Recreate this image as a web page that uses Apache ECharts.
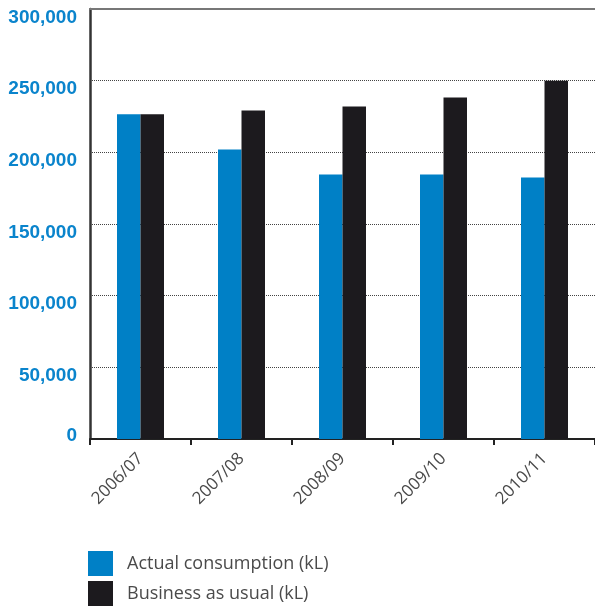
<!DOCTYPE html>
<html>
<head>
<meta charset="utf-8">
<script src="https://cdn.jsdelivr.net/npm/echarts@6/dist/echarts.min.js"></script>
<style>
  html, body { margin: 0; padding: 0; background: #fff; }
  #chart { width: 595px; height: 606px; }
</style>
</head>
<body>
<div id="chart"></div>
<script>
// datos
const categories = ['2006/07', '2007/08', '2008/09', '2009/10', '2010/11'];
const actualConsumption = [226500, 202000, 184600, 184600, 182500];
const businessAsUsual = [226500, 229200, 232000, 238300, 250000];
const yTicks = [0, 50000, 100000, 150000, 200000, 250000, 300000];

const chart = echarts.init(document.getElementById('chart'));

const labelFont = {
  fontFamily: 'Liberation Sans',
  fontWeight: 'bold',
  fontSize: 19,
  color: '#0a84cc'
};

const option = {
  animation: false,
  grid: { left: 90, right: -2, top: 9, bottom: 167 },
  legend: {
    orient: 'vertical',
    left: 88,
    top: 551,
    padding: 0,
    itemWidth: 25,
    itemHeight: 25,
    itemGap: 5,
    icon: 'rect',
    textStyle: { fontFamily: 'Open Sans', fontSize: 18, color: '#4a4a4a', padding: [0, 0, 0, 9] },
    data: ['Actual consumption (kL)', 'Business as usual (kL)']
  },
  xAxis: [
    {
      type: 'category',
      data: categories,
      axisLine: { lineStyle: { color: '#222', width: 2 } },
      axisTick: { show: true, length: 6, lineStyle: { color: '#222', width: 2 } },
      axisLabel: {
        rotate: 45,
        margin: 17,
        padding: [0, 0, 0, 0],
        fontFamily: 'Open Sans',
        fontSize: 17,
        color: '#4a4a4a'
      }
    },
    {
      type: 'category',
      position: 'top',
      data: categories,
      axisLine: { lineStyle: { color: '#777', width: 2 } },
      axisTick: { show: false },
      axisLabel: { show: false }
    }
  ],
  yAxis: {
    type: 'value',
    min: yTicks[0],
    max: yTicks[yTicks.length - 1],
    interval: 50000,
    axisLine: { show: true, lineStyle: { color: '#333', width: 2.5 } },
    axisTick: { show: false },
    axisLabel: {
      margin: 13,
      formatter: v => v === 0 ? '{z|0}' : '{n|' + v.toLocaleString('en-US') + '}',
      rich: {
        // las etiquetas quedan un poco por debajo de la linea
        n: Object.assign({ padding: [17, 0, 0, 0] }, labelFont),
        z: Object.assign({ padding: [0, 0, 6, 0] }, labelFont)
      }
    },
    splitLine: {
      show: true,
      showMinLine: false,
      showMaxLine: false,
      lineStyle: { type: 'dotted', color: '#444', width: 1 }
    }
  },
  series: [
    {
      name: 'Actual consumption (kL)',
      type: 'bar',
      data: actualConsumption,
      barWidth: 23.5,
      barGap: '0%',
      itemStyle: { color: '#0080c6' }
    },
    {
      name: 'Business as usual (kL)',
      type: 'bar',
      data: businessAsUsual,
      barWidth: 23.5,
      barGap: '0%',
      itemStyle: { color: '#1c1a1e' }
    }
  ]
};

chart.setOption(option);
</script>
</body>
</html>
